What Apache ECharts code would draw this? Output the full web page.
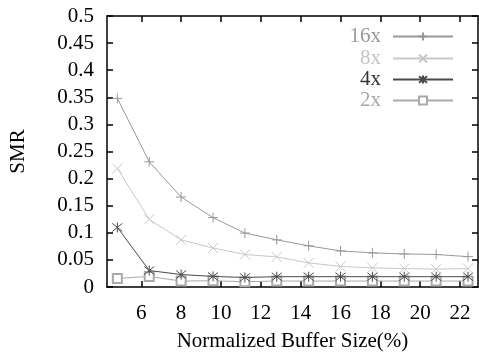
<!DOCTYPE html>
<html>
<head>
<meta charset="utf-8">
<script src="https://cdn.jsdelivr.net/npm/echarts@6/dist/echarts.min.js"></script>
<style>
html,body{margin:0;padding:0;background:#fff;}
#c{width:479px;height:357px;}
</style>
</head>
<body>
<div id="c"></div>
<script>
const bufferSize = [4.8, 6.4, 8.0, 9.6, 11.2, 12.8, 14.4, 16.0, 17.6, 19.2, 20.8, 22.4];
const smr16x = [0.348, 0.231, 0.166, 0.128, 0.0995, 0.087, 0.076, 0.0665, 0.063, 0.061, 0.060, 0.056];
const smr8x  = [0.2185, 0.125, 0.087, 0.072, 0.060, 0.0555, 0.0445, 0.038, 0.0353, 0.034, 0.033, 0.034];
const smr4x  = [0.110, 0.0304, 0.023, 0.0195, 0.0176, 0.019, 0.019, 0.019, 0.019, 0.019, 0.019, 0.019];
const smr2x  = [0.0158, 0.0195, 0.011, 0.0115, 0.0097, 0.011, 0.011, 0.011, 0.011, 0.011, 0.011, 0.011];
const xTicks = [6, 8, 10, 12, 14, 16, 18, 20, 22];
const yTicks = [0, 0.05, 0.1, 0.15, 0.2, 0.25, 0.3, 0.35, 0.4, 0.45, 0.5];
const seriesNames = ['16x', '8x', '4x', '2x'];

const FONT = '"Liberation Serif", "DejaVu Serif", serif';
const lineColors = ['#999999', '#c8c8c8', '#4a4a4a', '#aaaaaa'];
const textColors = ['#9a9a9a', '#c4c4c4', '#333333', '#a8a8a8'];
const symbols = [
  'path://M5,0L5,10M0,5L10,5',
  'path://M0,0L10,10M10,0L0,10',
  'path://M1,1L9,9M9,1L1,9M5,0L5,10',
  'emptyRect'
];
const symbolSizes = [10, 10, 10, 9];
const allData = [smr16x, smr8x, smr4x, smr2x];

const chart = echarts.init(document.getElementById('c'), null, {renderer: 'canvas'});

const series = seriesNames.map((n, i) => ({
  name: n,
  type: 'line',
  data: bufferSize.map((x, k) => [x, allData[i][k]]),
  symbol: symbols[i],
  symbolSize: symbolSizes[i],
  showAllSymbol: true,
  lineStyle: {color: lineColors[i], width: 1},
  itemStyle: {color: lineColors[i], borderColor: lineColors[i], borderWidth: 1},
  emphasis: {disabled: true},
  z: 10 - i
}));

const legendTops = [26, 48, 69, 90];
const legends = seriesNames.map((n, i) => ({
  data: [n],
  right: 25,
  top: legendTops[i],
  orient: 'vertical',
  align: 'right',
  itemWidth: 60,
  itemHeight: 10,
  itemGap: 0,
  selectedMode: false,
  textStyle: {fontFamily: FONT, fontSize: 21, color: textColors[i], padding: [0, 7, 0, 0]},
  padding: 0
}));

const baseX = {
  type: 'value', min: 4.28, max: 22.9,
  splitLine: {show: false},
  axisLine: {show: true, onZero: false, lineStyle: {color: '#000', width: 1.5}}
};
const baseY = {
  type: 'value', min: 0, max: 0.5,
  splitLine: {show: false},
  axisLine: {show: true, onZero: false, lineStyle: {color: '#000', width: 1.5}}
};

chart.setOption({
  animation: false,
  backgroundColor: '#fff',
  grid: {left: 107, top: 16, right: 1, bottom: 68, containLabel: false},
  legend: legends,
  xAxis: [
    Object.assign({}, baseX, {
      position: 'bottom',
      name: 'Normalized Buffer Size(%)',
      nameLocation: 'middle',
      nameGap: 44,
      nameTextStyle: {fontFamily: FONT, fontSize: 21, color: '#000'},
      axisTick: {show: true, inside: true, length: 6, customValues: xTicks, lineStyle: {color: '#000', width: 1.5}},
      axisLabel: {show: true, customValues: xTicks, margin: 16, fontFamily: FONT, fontSize: 21, color: '#000'}
    }),
    Object.assign({}, baseX, {
      position: 'top',
      axisTick: {show: true, inside: true, length: 6, customValues: xTicks, lineStyle: {color: '#000', width: 1.5}},
      axisLabel: {show: false}
    })
  ],
  yAxis: [
    Object.assign({}, baseY, {
      position: 'left',
      name: 'SMR',
      nameLocation: 'middle',
      nameGap: 78,
      nameRotate: 90,
      nameTextStyle: {fontFamily: FONT, fontSize: 21, color: '#000'},
      axisTick: {show: true, inside: true, length: 6, customValues: yTicks, lineStyle: {color: '#000', width: 1.5}},
      axisLabel: {show: true, customValues: yTicks, margin: 13, fontFamily: FONT, fontSize: 21, color: '#000'}
    }),
    Object.assign({}, baseY, {
      position: 'right',
      axisTick: {show: true, inside: true, length: 6, customValues: yTicks, lineStyle: {color: '#000', width: 1.5}},
      axisLabel: {show: false}
    })
  ],
  series: series
});
</script>
</body>
</html>
